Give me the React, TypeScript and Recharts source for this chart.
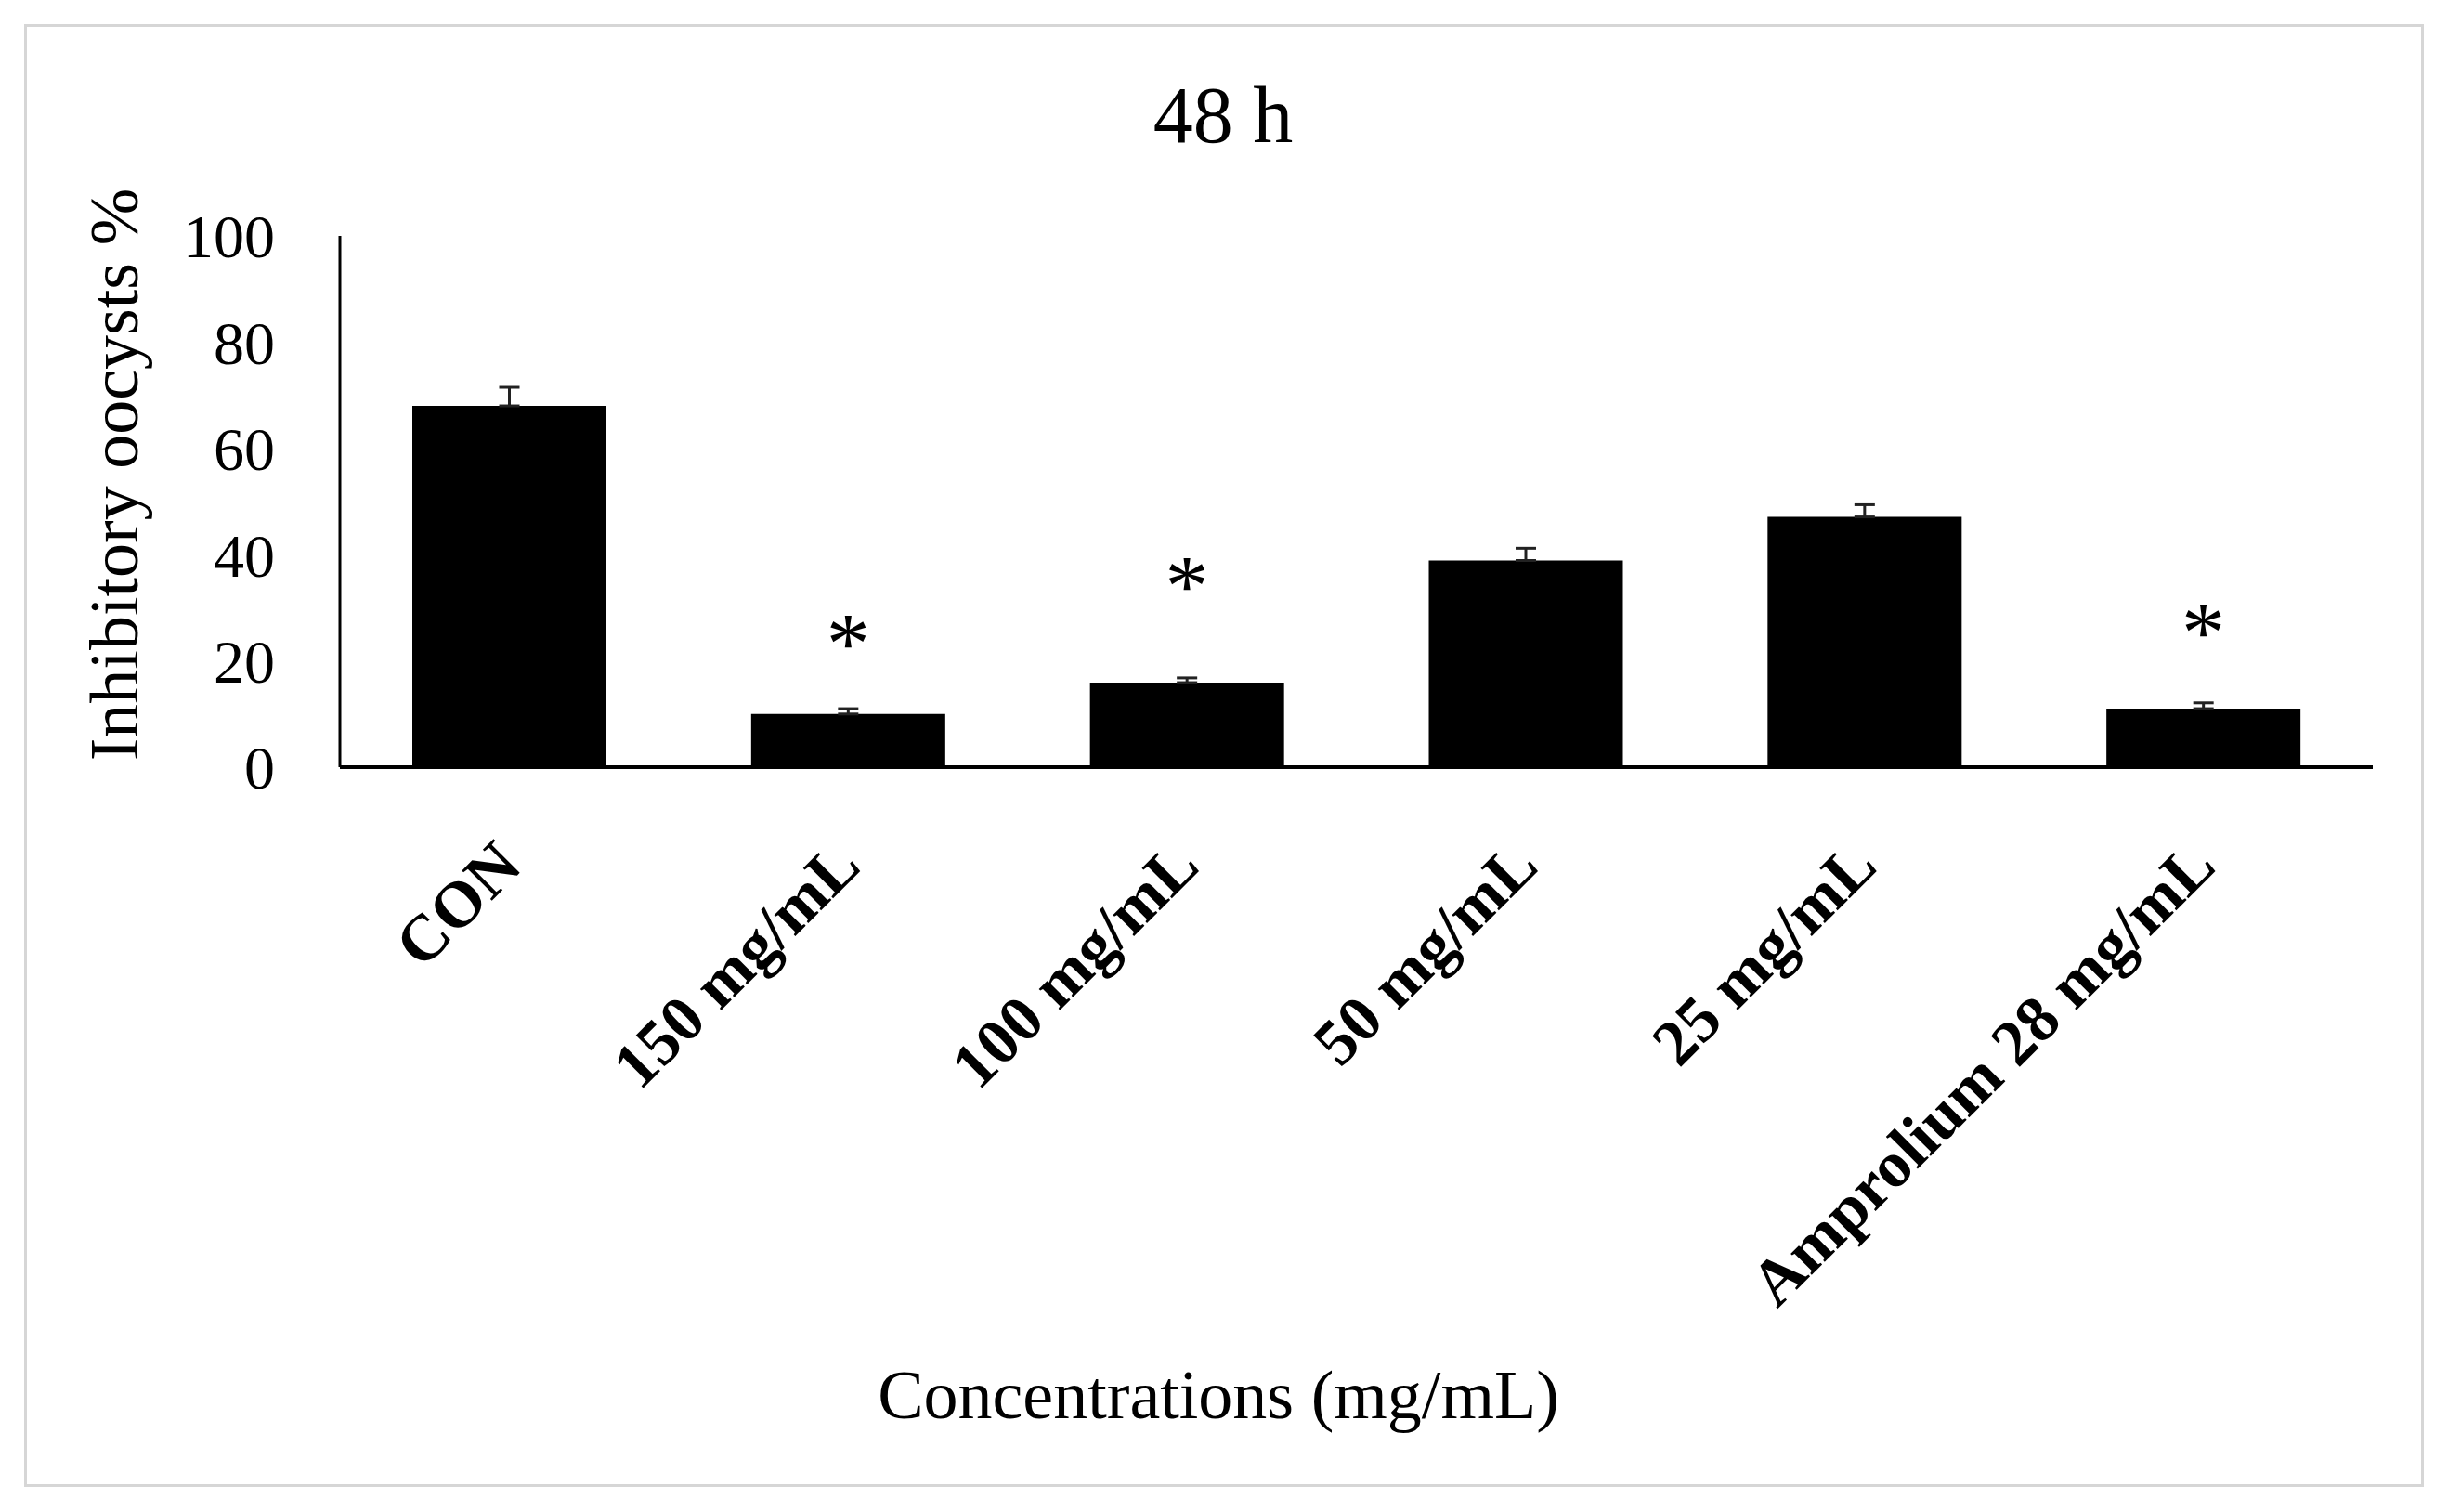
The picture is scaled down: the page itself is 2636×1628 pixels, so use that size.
import React from 'react';
import { ComposedChart, Bar, Scatter, XAxis, YAxis, ErrorBar, Label } from 'recharts';

const categories = ['CON', '150 mg/mL', '100 mg/mL', '50 mg/mL', '25 mg/mL', 'Amprolium 28 mg/mL'];
const inhibition = [68, 10, 15.9, 38.9, 47.1, 11];
const errors = [3.5, 1.0, 0.9, 2.3, 2.3, 1.1];
const significance = ['', '*', '*', '', '', '*'];
const markLevel = [null, 25.5, 36.4, null, null, 27.6];
const yTicks = [0, 20, 40, 60, 80, 100];

const chartTitle = '48 h';
const yTitle = 'Inhibitory oocysts %';
const xTitle = 'Concentrations (mg/mL)';

const data = categories.map((c, i) => ({
  name: c,
  value: inhibition[i],
  err: [0, errors[i]],
  mark: markLevel[i],
  sig: significance[i],
}));

const FONT = '"Liberation Serif", "Times New Roman", serif';

const XTick = (props: any) => {
  const { x, y, payload } = props;
  const ax = x + 16;
  const ay = y + 109;
  return (
    <text
      x={ax}
      y={ay}
      transform={`rotate(-45, ${ax}, ${ay})`}
      textAnchor="end"
      fontFamily={FONT}
      fontWeight="bold"
      fontSize={70}
      fill="#000"
    >
      {payload.value}
    </text>
  );
};

const StarShape = (props: any) => {
  const { cx, cy, payload } = props;
  if (!payload || !payload.sig || cx == null || cy == null || isNaN(cy)) return <g />;
  return (
    <text x={cx} y={cy + 44} textAnchor="middle" fontFamily={FONT} fontSize={94} fill="#000">
      {payload.sig}
    </text>
  );
};

export default function App() {
  return (
    <div style={{ position: 'absolute', left: 0, top: 0, width: 2636, height: 1628, background: '#fff' }}>
      <div
        style={{
          position: 'absolute',
          left: 26,
          top: 26,
          width: 2578,
          height: 1569,
          border: '3px solid #d6d6d6',
        }}
      />
      <div style={{ position: 'absolute', left: 0, top: 0 }}>
        <ComposedChart
          width={2636}
          height={1628}
          data={data}
          margin={{ top: 254, right: 81, left: 266, bottom: 502 }}
        >
          <XAxis
            dataKey="name"
            height={300}
            tickLine={false}
            tickSize={0}
            tickMargin={0}
            interval={0}
            axisLine={{ stroke: '#000', strokeWidth: 4 }}
            tick={<XTick />}
          >
            <Label
              content={() => (
                <text x={1312} y={1527} textAnchor="middle" fontFamily={FONT} fontSize={74} fill="#000">
                  {xTitle}
                </text>
              )}
            />
          </XAxis>
          <YAxis
            width={100}
            domain={[0, 100]}
            ticks={yTicks}
            interval={0}
            tickLine={false}
            tickSize={0}
            tickMargin={70}
            axisLine={{ stroke: '#000', strokeWidth: 3 }}
            tick={{ fontFamily: FONT, fontSize: 66, fill: '#000' }}
          >
            <Label
              content={() => (
                <g>
                  <text
                    x={148}
                    y={511}
                    transform="rotate(-90, 148, 511)"
                    textAnchor="middle"
                    fontFamily={FONT}
                    fontSize={74}
                    fill="#000"
                  >
                    {yTitle}
                  </text>
                  <text x={1317} y={153} textAnchor="middle" fontFamily={FONT} fontSize={86} fill="#000">
                    {chartTitle}
                  </text>
                </g>
              )}
            />
          </YAxis>
          <Bar dataKey="value" fill="#000" barSize={209} isAnimationActive={false}>
            <ErrorBar dataKey="err" width={11} stroke="#222" strokeWidth={3} direction="y" />
          </Bar>
          <Scatter dataKey="mark" shape={<StarShape />} isAnimationActive={false} />
        </ComposedChart>
      </div>
    </div>
  );
}
